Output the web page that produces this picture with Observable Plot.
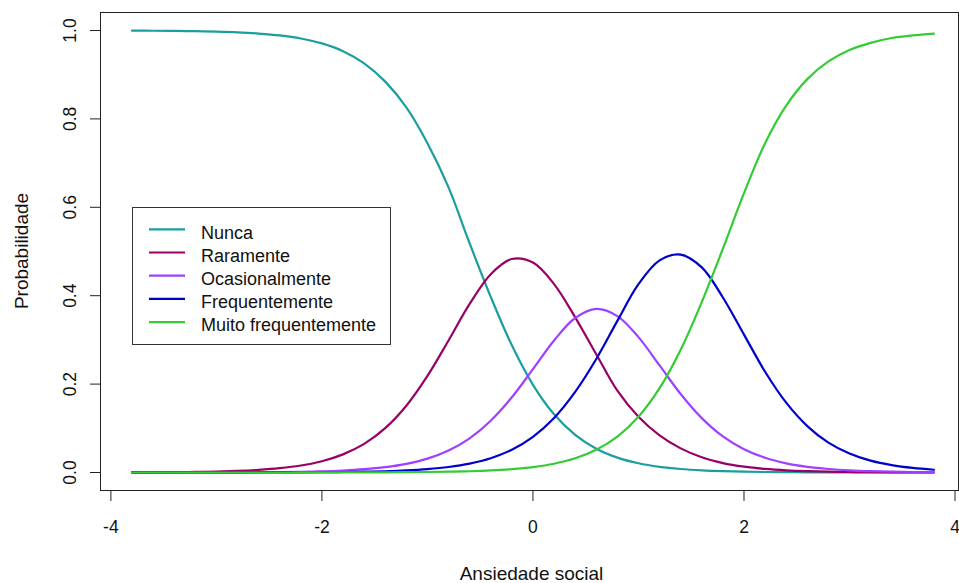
<!DOCTYPE html>
<html>
<head>
<meta charset="utf-8">
<script src="https://cdn.jsdelivr.net/npm/d3@7"></script>
<script src="https://cdn.jsdelivr.net/npm/@observablehq/plot@0.6"></script>
<style>
html, body { margin: 0; padding: 0; background: #fff; }
#wrap { position: relative; width: 959px; height: 583px; overflow: hidden; font-family: "Liberation Sans", Arial, sans-serif; }
#overlay { position: absolute; left: 0; top: 0; pointer-events: none; }
</style>
</head>
<body>
<div id="wrap"></div>
<script>
// ---- data ----
const theta = [-3.8,-3.6,-3.4,-3.2,-3.0,-2.8,-2.6,-2.4,-2.2,-2.0,-1.8,-1.6,-1.4,-1.2,-1.0,-0.8,-0.6,-0.4,-0.2,0.0,0.2,0.4,0.6,0.8,1.0,1.2,1.4,1.6,1.8,2.0,2.2,2.4,2.6,2.8,3.0,3.2,3.4,3.6,3.8];
const nunca = [0.9996,0.9994,0.9990,0.9984,0.9974,0.9958,0.9931,0.9888,0.9819,0.9708,0.9532,0.9258,0.8843,0.8260,0.7450,0.6450,0.5183,0.3973,0.2877,0.1984,0.1316,0.0850,0.0538,0.0337,0.0209,0.0129,0.0080,0.0049,0.0030,0.0018,0.0011,0.0007,0.0004,0.0003,0.0002,0.0001,0.0001,0.0000,0.0000];
const raramente = [0.0003,0.0005,0.0009,0.0014,0.0023,0.0037,0.0060,0.0098,0.0159,0.0256,0.0410,0.0647,0.1003,0.1510,0.2184,0.2988,0.3813,0.4486,0.4831,0.4749,0.4263,0.3511,0.2676,0.1850,0.1260,0.0840,0.0546,0.0344,0.0214,0.0133,0.0082,0.0050,0.0031,0.0019,0.0012,0.0007,0.0004,0.0003,0.0002];
const ocasionalmente = [0.0000,0.0001,0.0001,0.0002,0.0002,0.0004,0.0007,0.0011,0.0017,0.0028,0.0046,0.0075,0.0122,0.0196,0.0314,0.0498,0.0774,0.1171,0.1701,0.2338,0.2988,0.3495,0.3703,0.3539,0.3063,0.2422,0.1776,0.1230,0.0816,0.0526,0.0333,0.0208,0.0129,0.0080,0.0049,0.0030,0.0019,0.0011,0.0007];
const frequentemente = [0.0000,0.0000,0.0000,0.0000,0.0001,0.0001,0.0002,0.0003,0.0004,0.0007,0.0011,0.0018,0.0029,0.0047,0.0077,0.0125,0.0202,0.0324,0.0515,0.0806,0.1233,0.1823,0.2568,0.3430,0.4260,0.4800,0.4930,0.4640,0.3960,0.3120,0.2280,0.1580,0.1050,0.0675,0.0428,0.0268,0.0167,0.0103,0.0063];
const muitoFrequentemente = [0.0000,0.0000,0.0000,0.0000,0.0000,0.0000,0.0000,0.0000,0.0001,0.0001,0.0002,0.0002,0.0004,0.0007,0.0011,0.0018,0.0029,0.0047,0.0076,0.0123,0.0199,0.0321,0.0514,0.0813,0.1262,0.1907,0.2778,0.3857,0.5062,0.6320,0.7450,0.8300,0.8900,0.9300,0.9560,0.9720,0.9830,0.9890,0.9930];

const seriesNames = ["Nunca", "Raramente", "Ocasionalmente", "Frequentemente", "Muito frequentemente"];
const seriesColors = ["#1a9e9e", "#990066", "#a040ff", "#0000cc", "#33cc33"];
const xTicks = [-4, -2, 0, 2, 4];
const yTicks = [0, 0.2, 0.4, 0.6, 0.8, 1.0];
const xTitle = "Ansiedade social";
const yTitle = "Probabilidade";

// ---- build long table ----
const seriesValues = [nunca, raramente, ocasionalmente, frequentemente, muitoFrequentemente];
const rows = [];
seriesValues.forEach((arr, s) => arr.forEach((v, i) => rows.push({theta: theta[i], p: v, serie: seriesNames[s]})));

const W = 959, H = 583;
const chart = Plot.plot({
  width: W, height: H,
  marginLeft: 100, marginRight: 1, marginTop: 12, marginBottom: 93,
  style: {fontFamily: '"Liberation Sans", Arial, sans-serif', fontSize: "17.5px", color: "#111", background: "#fff"},
  x: {domain: [-4.0986, 4.033]},
  y: {domain: [-0.0407, 1.0407]},
  color: {domain: seriesNames, range: seriesColors},
  marks: [
    Plot.axisX(xTicks, {tickSize: 11, tickPadding: 19, tickFormat: d => String(d), label: null, fontSize: 17.5, stroke: "#222"}),
    Plot.axisY(yTicks, {tickSize: 10, tickPadding: 14.5, tickRotate: -90, tickFormat: d => d.toFixed(1), label: null, fontSize: 17.5, stroke: "#222"}),
    Plot.frame({stroke: "#222"}),
    Plot.line(rows, {x: "theta", y: "p", z: "serie", stroke: "serie", strokeWidth: 2.2, curve: "catmull-rom"})
  ]
});

const wrap = document.getElementById("wrap");
wrap.appendChild(chart);

// ---- overlay: axis titles and legend ----
const ns = "http://www.w3.org/2000/svg";
const ov = document.createElementNS(ns, "svg");
ov.setAttribute("id", "overlay");
ov.setAttribute("width", W);
ov.setAttribute("height", H);
ov.setAttribute("font-family", '"Liberation Sans", Arial, sans-serif');
function el(tag, attrs, text) {
  const e = document.createElementNS(ns, tag);
  for (const k in attrs) e.setAttribute(k, attrs[k]);
  if (text != null) e.textContent = text;
  ov.appendChild(e);
  return e;
}
el("text", {x: 531.5, y: 579.5, "text-anchor": "middle", "font-size": 19, fill: "#111"}, xTitle);
el("text", {transform: "translate(28,251) rotate(-90)", "text-anchor": "middle", "font-size": 19, fill: "#111"}, yTitle);

// legend
el("rect", {x: 132.5, y: 207.5, width: 258, height: 137, fill: "#fff", stroke: "#333", "stroke-width": 1});
seriesNames.forEach((name, i) => {
  const cy = 229.3 + i * 23.2;
  el("line", {x1: 149, x2: 185, y1: cy, y2: cy, stroke: seriesColors[i], "stroke-width": 2.2});
  el("text", {x: 201, y: cy + 9.3, "font-size": 18, fill: "#111"}, name);
});
wrap.appendChild(ov);
</script>
</body>
</html>
